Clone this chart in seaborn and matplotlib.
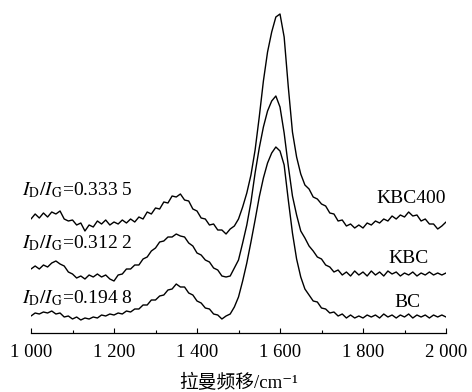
import numpy as np
import pandas as pd
import matplotlib

matplotlib.use("Agg")

import matplotlib.pyplot as plt
import seaborn as sns

# Raman shift (cm-1), one reading every 10 cm-1
shift = list(range(1000, 2001, 10))

# intensities (a.u., offsets already included)
kbc400 = [114, 119, 115, 120, 116, 121, 119, 122, 114, 112,
          113, 108, 110, 102, 108, 106, 112, 109, 113, 108,
          111, 109, 113, 110, 114, 111, 116, 114, 121, 119,
          125, 124, 131, 130, 137, 136, 139, 133, 132, 124,
          122, 115, 114, 108, 109, 103, 103, 99, 104, 107,
          114, 126, 140, 158, 183, 216, 252, 281, 301, 316,
          319, 296, 246, 201, 176, 159, 148, 144, 136, 134,
          129, 127, 120, 119, 112, 113, 107, 109, 105, 108,
          105, 110, 108, 112, 110, 114, 112, 117, 114, 118,
          116, 121, 117, 118, 112, 114, 109, 109, 104, 107,
          111]
kbc = [64, 67, 64, 68, 66, 70, 72, 69, 67, 61,
       59, 55, 57, 54, 58, 56, 59, 56, 58, 54,
       52, 58, 59, 64, 64, 68, 68, 74, 76, 82,
       85, 91, 92, 96, 96, 99, 97, 96, 90, 87,
       80, 78, 73, 71, 65, 63, 57, 56, 57, 65,
       73, 90, 108, 131, 160, 185, 206, 222, 232, 237,
       226, 200, 167, 137, 118, 102, 95, 87, 82, 76,
       74, 68, 66, 61, 63, 58, 61, 57, 62, 58,
       61, 57, 62, 58, 61, 57, 62, 59, 61, 57,
       60, 58, 61, 57, 60, 58, 61, 58, 60, 58,
       60]
bc = [17, 20, 19, 21, 20, 22, 19, 20, 16, 17,
      14, 16, 13, 15, 14, 16, 15, 18, 17, 19,
      18, 20, 19, 22, 21, 24, 24, 28, 28, 33,
      33, 37, 38, 43, 44, 49, 46, 46, 40, 38,
      32, 30, 25, 24, 19, 18, 14, 17, 19, 26,
      36, 52, 70, 91, 113, 136, 155, 170, 180, 186,
      182, 168, 133, 100, 74, 56, 44, 38, 32, 31,
      25, 24, 20, 21, 17, 19, 15, 18, 15, 17,
      15, 18, 16, 18, 15, 19, 16, 18, 15, 18,
      16, 19, 15, 18, 16, 18, 15, 18, 16, 18,
      16]

samples = ["KBC400", "KBC", "BC"]
ratios = ["0.333 5", "0.312 2", "0.194 8"]
xticks = [1000, 1200, 1400, 1600, 1800, 2000]
xtick_labels = ["1 000", "1 200", "1 400", "1 600", "1 800", "2 000"]

df = pd.DataFrame({
    "shift": shift * 3,
    "intensity": kbc400 + kbc + bc,
    "sample": sum([[s] * len(shift) for s in samples], []),
})

sns.set_style("ticks")
plt.rcParams["font.family"] = ["Liberation Serif", "Noto Sans CJK SC", "DejaVu Serif"]
plt.rcParams["mathtext.fontset"] = "stix"

fig = plt.figure(figsize=(4.72, 3.92), dpi=100)
ax = fig.add_axes([31 / 472, 59 / 392, 415 / 472, 333 / 392])

sns.lineplot(data=df, x="shift", y="intensity", units="sample", estimator=None,
             color="black", linewidth=1.0, ax=ax)

ax.set_xlim(1000, 2000)
ax.set_ylim(0, 333)
for side in ["left", "top", "right"]:
    ax.spines[side].set_visible(False)
ax.spines["bottom"].set_color("black")
ax.spines["bottom"].set_linewidth(0.9)
ax.set_yticks([])
ax.set_ylabel("")

ax.set_xticks(xticks)
ax.set_xticklabels(xtick_labels)
ax.set_xticks([1100, 1300, 1500, 1700, 1900], minor=True)
ax.tick_params(axis="x", which="major", direction="in", length=3.8, width=0.8,
               color="black", labelcolor="black", labelsize=13.5, pad=8)
ax.tick_params(axis="x", which="minor", direction="in", length=2, width=0.8, color="black")
ax.set_xlabel("拉曼频移/cm⁻¹", fontsize=13.5, color="black", labelpad=9)

# sample names on the right, ratio labels on the left
name_pos = [(1916, 130), (1910, 70), (1907, 26)]
ratio_y = [138, 85, 30]
for name, (x, y) in zip(samples, name_pos):
    ax.text(x, y, name, ha="center", va="baseline", fontsize=14, color="black")
for r, y in zip(ratios, ratio_y):
    ax.text(978, y, r"$I_{\mathrm{D}}/I_{\mathrm{G}}$=" + r, ha="left", va="baseline",
            fontsize=14, color="black")

plt.savefig("out.png", dpi=100)
plt.close()
